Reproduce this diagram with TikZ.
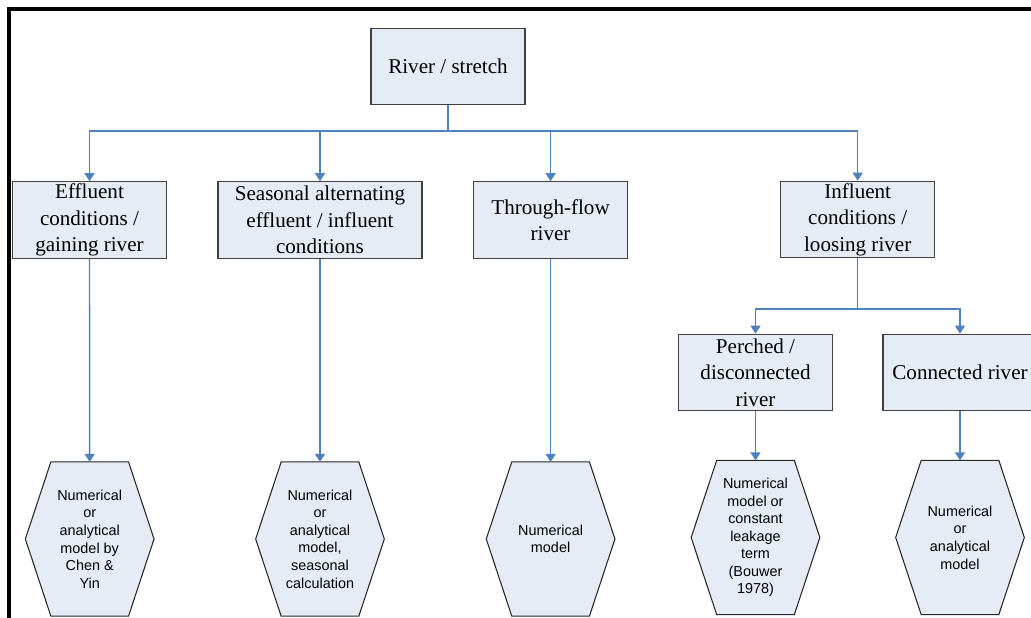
\documentclass[tikz,border=0pt]{standalone}
\usepackage{fontspec}
\setmainfont{Liberation Serif}
\setsansfont{Liberation Sans}
\usetikzlibrary{arrows.meta,backgrounds}

\definecolor{boxfill}{RGB}{230,236,246}
\definecolor{linkblue}{RGB}{79,129,189}
\definecolor{boxline}{RGB}{64,64,64}

\tikzset{
  stagebox/.style={draw=boxline, line width=0.6pt, fill=boxfill, align=center, inner sep=0pt,
    minimum width=3.08cm, minimum height=1.53cm, font=\fontsize{12}{15}\selectfont},
  modelhex/.style={align=center, inner sep=0pt, minimum width=2.56cm, minimum height=3.07cm,
    font=\sffamily\fontsize{8.2}{10}\selectfont},
  hexline/.style={draw=black!85, line width=0.6pt, fill=boxfill},
  link/.style={draw=linkblue, line width=0.8pt},
  arr/.style={link, -{Triangle[width=5.7pt,length=4.6pt]}},
}

\begin{document}
\begin{tikzpicture}[x=0.02cm, y=-0.02cm]
\useasboundingbox (0,0) rectangle (1031,618);
\clip (0,0) rectangle (1031,618);

% Frame
\draw[line width=0.08cm] (9,630) -- (9,9) -- (1040,9);

% Top level
\node[stagebox] (root) at (448,66.5) {River / stretch};

% Stream conditions
\node[stagebox] (eff) at (89.5,220) {Effluent\\conditions /\\gaining river};
\node[stagebox, minimum width=4.08cm] (seas) at (320,220) {Seasonal alternating\\effluent / influent\\conditions};
\node[stagebox] (thru) at (550.6,220) {Through-flow\\river};
\node[stagebox] (infl) at (857.7,219.5) {Influent\\conditions /\\loosing river};

% Influent sub-cases
\node[stagebox] (perch) at (755.5,372.5) {Perched /\\disconnected\\river};
\node[stagebox] (conn) at (960,372.5) {Connected river};

% Model approaches
\node[modelhex] (mEff) at (89.7,539) {Numerical\\or\\analytical\\model by\\Chen \&\\Yin};
\node[modelhex] (mSeas) at (320,539) {Numerical\\or\\analytical\\model,\\seasonal\\calculation};
\node[modelhex] (mThru) at (550.6,539) {Numerical\\model};
\node[modelhex] (mPerch) at (755.5,537.5) {Numerical\\model or\\constant\\leakage\\term\\(Bouwer\\1978)};
\node[modelhex] (mConn) at (960,537.5) {Numerical\\or\\analytical\\model};

\begin{scope}[on background layer]
\foreach \h in {mEff,mSeas,mThru,mPerch,mConn}
  \path[hexline] ([xshift=0.51cm]\h.north west) -- ([xshift=-0.51cm]\h.north east) -- (\h.east)
    -- ([xshift=-0.51cm]\h.south east) -- ([xshift=0.51cm]\h.south west) -- (\h.west) -- cycle;
\end{scope}

% Connections
\coordinate (split1) at (448,131);
\coordinate (split2) at (857.7,309);
\draw[link] (root.south) -- (split1);
\foreach \c in {eff,seas,thru,infl}
  \draw[arr] (split1) -| (\c.north);
\draw[link] (infl.south) -- (split2);
\foreach \c in {perch,conn}
  \draw[arr] (split2) -| (\c.north);
\draw[arr] (eff.south) -- (mEff.north);
\draw[arr] (seas.south) -- (mSeas.north);
\draw[arr] (thru.south) -- (mThru.north);
\draw[arr] (perch.south) -- (mPerch.north);
\draw[arr] (conn.south) -- (mConn.north);
\end{tikzpicture}
\end{document}
